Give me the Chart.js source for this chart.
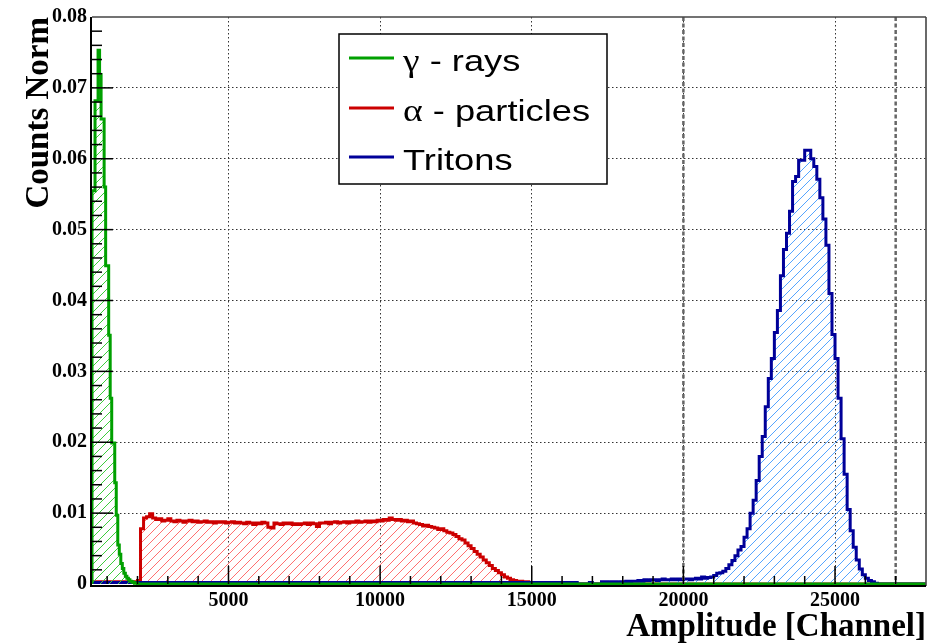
<!DOCTYPE html>
<html>
<head>
<meta charset="utf-8">
<script src="https://cdn.jsdelivr.net/npm/chart.js@4.4.1/dist/chart.umd.min.js"></script>
<style>
  html, body { margin: 0; padding: 0; background: #fff; }
  canvas { display: block; }
</style>
</head>
<body>
<canvas id="spectrum" width="950" height="644"></canvas>
<script>
// axis ranges and ticks
const xRange = [500, 28000];
const yRange = [0, 0.08];
const xTickValues = [5000, 10000, 15000, 20000, 25000];
const yTickValues = [0, 0.01, 0.02, 0.03, 0.04, 0.05, 0.06, 0.07, 0.08];
const cutLines = [20000, 27000];

const seriesLabels = ['γ - rays', 'α - particles', 'Tritons'];

// normalised counts per bin (bin low edge = start + i * width)
const gammaStart = 600, gammaBin = 50;
const gammaCounts = [
  0.0555, 0.0682, 0.0682, 0.0753, 0.0719, 0.0656, 0.0656, 0.0560, 0.0449, 0.0449,
  0.0351, 0.0262, 0.0199, 0.0199, 0.0143, 0.0097, 0.0055, 0.0042, 0.0029, 0.0022,
  0.0015, 0.0011, 0.0008, 0.0006, 0.0004, 0.0003, 0.0002, 0.0001, 0.0001
];

const alphaStart = 2000, alphaBin = 100;
const alphaCounts = [
  0.0003, 0.0005, 0.0078, 0.0093, 0.0095, 0.0099, 0.0093, 0.0091, 0.0092, 0.0089,
  0.0090, 0.0092, 0.0089, 0.0088, 0.0090, 0.0089, 0.0087, 0.0089, 0.0090, 0.0088,
  0.0089, 0.0087, 0.0088, 0.0089, 0.0087, 0.0088, 0.0086, 0.0088, 0.0087, 0.0088,
  0.0086, 0.0087, 0.0088, 0.0086, 0.0087, 0.0086, 0.0085, 0.0087, 0.0086, 0.0084,
  0.0086, 0.0085, 0.0087, 0.0086, 0.0080, 0.0079, 0.0086, 0.0085, 0.0084, 0.0086,
  0.0085, 0.0086, 0.0084, 0.0085, 0.0084, 0.0085, 0.0086, 0.0084, 0.0086, 0.0085,
  0.0081, 0.0086, 0.0086, 0.0087, 0.0085, 0.0087, 0.0088, 0.0086, 0.0087, 0.0088,
  0.0086, 0.0088, 0.0087, 0.0089, 0.0087, 0.0088, 0.0089, 0.0087, 0.0089, 0.0088,
  0.0090, 0.0089, 0.0091, 0.0090, 0.0093, 0.0091, 0.0090, 0.0091, 0.0089, 0.0090,
  0.0088, 0.0089, 0.0086, 0.0085, 0.0084, 0.0082, 0.0083, 0.0081, 0.0080, 0.0079,
  0.0077, 0.0078, 0.0075, 0.0073, 0.0072, 0.0070, 0.0067, 0.0064, 0.0062, 0.0058,
  0.0054, 0.0050, 0.0046, 0.0042, 0.0038, 0.0034, 0.0030, 0.0026, 0.0022, 0.0019,
  0.0016, 0.0013, 0.0010, 0.0008, 0.0006, 0.0005, 0.0004, 0.0004, 0.0003, 0.0003
];

const tritonStart = 16500, tritonBin = 100;
const tritonCounts = [
  0.0002, 0, 0, 0, 0, 0.0002, 0, 0, 0, 0.0003,
  0.0003, 0.0002, 0.0003, 0.0003, 0.0002, 0.0003, 0.0003, 0.0004, 0.0003, 0.0004,
  0.0004, 0.0005, 0.0004, 0.0006, 0.0005, 0.0006, 0.0006, 0.0005, 0.0006, 0.0007,
  0.0006, 0.0006, 0.0007, 0.0006, 0.0007, 0.0006, 0.0007, 0.0007, 0.0006, 0.0007,
  0.0008, 0.0007, 0.0010, 0.0008, 0.0009, 0.0010, 0.0012, 0.0015, 0.0016, 0.0018,
  0.0022, 0.0027, 0.0033, 0.0040, 0.0048, 0.0053, 0.0066, 0.0078, 0.0100, 0.0118,
  0.0146, 0.0180, 0.0208, 0.0250, 0.0290, 0.0318, 0.0355, 0.0386, 0.0435, 0.0472,
  0.0495, 0.0526, 0.0568, 0.0575, 0.0598, 0.0598, 0.0612, 0.0612, 0.0600, 0.0589,
  0.0571, 0.0545, 0.0515, 0.0478, 0.0410, 0.0352, 0.0318, 0.0262, 0.0205, 0.0155,
  0.0105, 0.0075, 0.0052, 0.0034, 0.0021, 0.0013, 0.0008, 0.0005, 0.0003, 0.0001
];

const canvas = document.getElementById('spectrum');
const ctx = canvas.getContext('2d');

// step outline over the full axis range, zero outside the filled bins
function histPoints(start, width, counts) {
  const pts = [{ x: xRange[0], y: 0 }];
  counts.forEach((c, i) => pts.push({ x: start + i * width, y: c }));
  pts.push({ x: start + counts.length * width, y: 0 });
  pts.push({ x: xRange[1], y: 0 });
  return pts;
}

// "/" hatching like ROOT fill style 3004
function hatch(color) {
  const s = 9;
  const tile = document.createElement('canvas');
  tile.width = s;
  tile.height = s;
  const g = tile.getContext('2d');
  g.strokeStyle = color;
  g.lineWidth = 1;
  g.beginPath();
  g.moveTo(0, s); g.lineTo(s, 0);
  g.moveTo(-1, 1); g.lineTo(1, -1);
  g.moveTo(s - 1, s + 1); g.lineTo(s + 1, s - 1);
  g.stroke();
  return ctx.createPattern(tile, 'repeat');
}

function seg(c, x0, y0, x1, y1) {
  c.beginPath();
  c.moveTo(x0, y0);
  c.lineTo(x1, y1);
  c.stroke();
}

// no dotted grid line on top of the frame edges
function gridColor(gc) {
  const v = gc.tick ? gc.tick.value : null;
  return v === yRange[0] || v === yRange[1] ? 'rgba(0,0,0,0)' : '#333';
}

const rootAxes = {
  id: 'rootAxes',
  afterDatasetsDraw(chart) {
    const { ctx: c, chartArea: a, scales: { x } } = chart;
    c.save();
    c.strokeStyle = '#666';
    c.lineWidth = 2.5;
    c.setLineDash([4, 2.5]);
    cutLines.forEach(v => {
      const px = x.getPixelForValue(v);
      seg(c, px, a.top, px, a.bottom);
    });
    c.restore();
  },
  afterDraw(chart) {
    const { ctx: c, chartArea: a, scales: { x, y } } = chart;
    c.save();

    // inner tick marks
    c.strokeStyle = '#000';
    c.lineWidth = 1.5;
    for (let v = 1000; v < xRange[1]; v += 1000) {
      const px = x.getPixelForValue(v);
      const len = v % 5000 === 0 ? 18 : 8;
      seg(c, px, a.bottom, px, a.bottom - len);
    }
    for (let i = 1; i < 40; i++) {
      const py = y.getPixelForValue(i * 0.002);
      const len = i % 5 === 0 ? 21 : 10;
      seg(c, a.left, py, a.left + len, py);
    }

    // frame
    c.strokeStyle = '#444';
    c.lineWidth = 1.6;
    seg(c, a.left, a.top, a.right, a.top);
    seg(c, a.right, a.top, a.right, a.bottom + 2);
    c.strokeStyle = '#000';
    c.lineWidth = 2;
    seg(c, a.left - 1, a.top, a.left - 1, a.bottom + 3);
    seg(c, a.left - 1, a.bottom + 2, a.right, a.bottom + 2);

    // legend box
    const box = { l: 339, t: 34, r: 607, b: 184 };
    c.fillStyle = '#fff';
    c.fillRect(box.l, box.t, box.r - box.l, box.b - box.t);
    c.strokeStyle = '#000';
    c.lineWidth = 1.5;
    c.strokeRect(box.l, box.t, box.r - box.l, box.b - box.t);

    const rows = [58, 108, 157];
    chart.data.datasets.forEach((ds, i) => {
      const cy = rows[i];
      c.strokeStyle = ds.borderColor;
      c.lineWidth = 3;
      seg(c, 349, cy, 394, cy);

      const label = ds.label;
      const greek = /^[α-ω]/.test(label) ? label[0] : '';
      const rest = label.slice(greek.length);
      c.save();
      c.translate(403, cy + 13);
      c.scale(1.21, 1);
      c.fillStyle = '#000';
      c.textBaseline = 'alphabetic';
      c.textAlign = 'left';
      let tx = 0;
      if (greek) {
        c.font = '31px "Liberation Serif"';
        c.fillText(greek, 0, 0);
        tx = c.measureText(greek).width;
      }
      c.font = '30px "Liberation Sans"';
      c.fillText(rest, tx, 0);
      c.restore();
    });

    c.restore();
  }
};

const serif = '"Liberation Serif", "Times New Roman", serif';

new Chart(ctx, {
  type: 'line',
  data: {
    datasets: [
      {
        label: seriesLabels[0],
        data: histPoints(gammaStart, gammaBin, gammaCounts),
        borderColor: '#00a000',
        backgroundColor: hatch('#3dcc3d'),
        order: 0
      },
      {
        label: seriesLabels[1],
        data: histPoints(alphaStart, alphaBin, alphaCounts),
        borderColor: '#cc0000',
        backgroundColor: hatch('#ff7070'),
        order: 2
      },
      {
        label: seriesLabels[2],
        data: histPoints(tritonStart, tritonBin, tritonCounts),
        borderColor: '#000099',
        backgroundColor: hatch('#55a5ff'),
        order: 1
      }
    ]
  },
  options: {
    responsive: false,
    animation: false,
    devicePixelRatio: 1,
    layout: { padding: { top: 13, right: 24, left: 0, bottom: 0 } },
    datasets: {
      line: {
        stepped: 'after',
        fill: 'origin',
        borderWidth: 3,
        pointRadius: 0,
        tension: 0,
        clip: 4
      }
    },
    plugins: {
      legend: { display: false },
      tooltip: { enabled: false }
    },
    scales: {
      x: {
        type: 'linear',
        min: xRange[0],
        max: xRange[1],
        z: 1,
        afterBuildTicks: s => { s.ticks = xTickValues.map(v => ({ value: v })); },
        afterFit: s => { s.height = 60; },
        ticks: {
          autoSkip: false,
          maxRotation: 0,
          padding: 5,
          color: '#000',
          font: { family: serif, size: 20, weight: 'bold' },
          callback: v => String(v)
        },
        grid: { color: '#333', lineWidth: 1, drawTicks: false },
        border: { display: false, dash: [1.5, 2.5] },
        title: {
          display: true,
          text: 'Amplitude [Channel]',
          align: 'end',
          color: '#000',
          font: { family: serif, size: 33, weight: 'bold', lineHeight: 1 },
          padding: { top: 0, bottom: 0 }
        }
      },
      y: {
        min: yRange[0],
        max: yRange[1],
        z: 1,
        afterBuildTicks: s => { s.ticks = yTickValues.map(v => ({ value: v })); },
        afterFit: s => { s.width = 92; },
        ticks: {
          padding: 5,
          color: '#000',
          font: { family: serif, size: 20, weight: 'bold' },
          callback: v => (v === 0 ? '0' : v.toFixed(2))
        },
        grid: { color: gridColor, lineWidth: 1, drawTicks: false },
        border: { display: false, dash: [1.5, 2.5] },
        title: {
          display: true,
          text: 'Counts Norm',
          align: 'end',
          color: '#000',
          font: { family: serif, size: 33, weight: 'bold' },
          padding: { top: 20, bottom: 0 }
        }
      }
    }
  },
  plugins: [rootAxes]
});
</script>
</body>
</html>
